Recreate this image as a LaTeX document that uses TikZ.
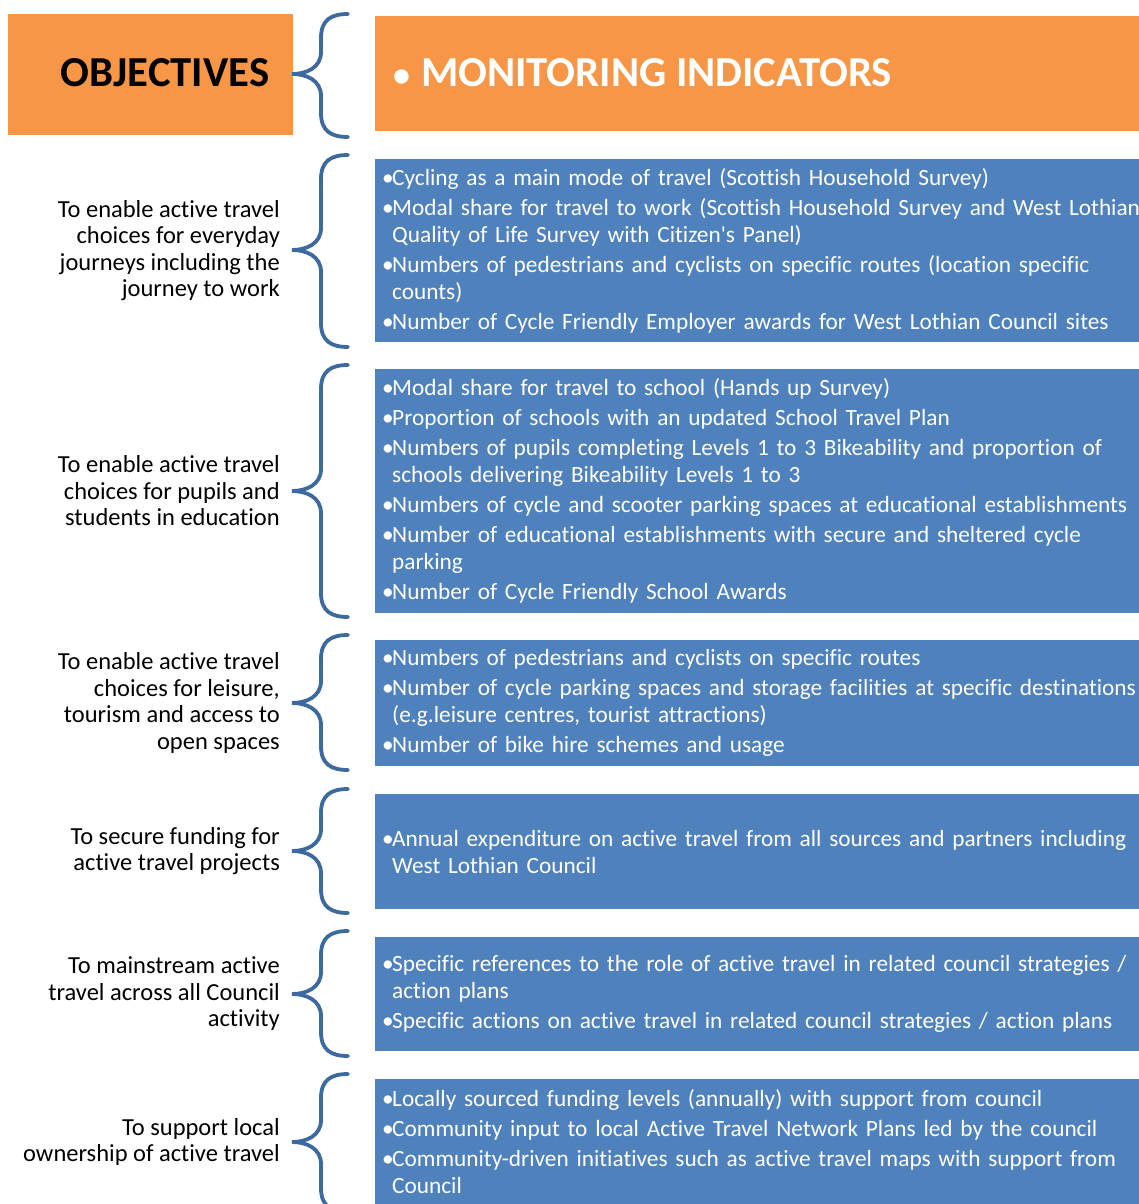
\documentclass[tikz,border=0pt]{standalone}
\usepackage{fontspec}
\setmainfont{Carlito}[Ligatures={TeX,NoCommon}]
\hyphenpenalty=10000
\definecolor{orng}{HTML}{F79646}
\definecolor{blu}{HTML}{4F81BD}
\definecolor{brc}{HTML}{3D6A9E}
\newcommand\itm[1]{\makebox[10pt][l]{•}#1}
\newcommand\cnt{\hspace*{10pt}}
\newcommand\mybrace[3]{% top, bottom, tip (pixel y)
  \draw[bracestyle] (348,#1) .. controls (331,#1) and (321,#1+6) .. (321,#1+24)
    -- (321,#3-22) .. controls (321,#3-6) and (306,#3) .. (292,#3)
    .. controls (306,#3) and (321,#3+6) .. (321,#3+22)
    -- (321,#2-24) .. controls (321,#2-6) and (331,#2) .. (348,#2);}
\begin{document}
\begin{tikzpicture}[x=1pt,y=-1pt,
  bracestyle/.style={draw=brc,line width=3.8pt,line cap=round},
  bluebox/.style={fill=blu,text=white,anchor=west,inner xsep=7pt,inner ysep=0pt,
    text width=820pt,align=left,font=\fontsize{23.3}{27}\selectfont},
  objtext/.style={anchor=east,align=right,inner sep=0pt,font=\fontsize{24.5}{26.5}\selectfont},
  ]
\useasboundingbox (0,0) rectangle (1139,1204);
% header
\node[fill=orng,minimum width=285pt,minimum height=121pt,anchor=north west,inner sep=0pt] (hl) at (8,14) {};
\node[font=\fontsize{42.7}{44}\selectfont\bfseries] (ht) at (165,73) {OBJECTIVES};
\node[fill=orng,minimum width=780pt,minimum height=115pt,anchor=north west,inner sep=0pt] (hr) at (375,16) {};
\node[font=\fontsize{42.7}{44}\selectfont\bfseries,text=white,anchor=west,inner sep=0pt] (hi) at (393,73) {{\fontsize{34}{34}\selectfont •}\hspace{11pt}MONITORING INDICATORS};
\mybrace{14}{137}{74}
% row 1
\node[objtext] (o1) at (280,250.5) {To enable active travel\\choices for everyday\\journeys including the\\journey to work};
\mybrace{155}{347}{250}
\node[bluebox,minimum height=183pt] (b1) at (375,250.5) {\itm{Cycling as a main mode of travel (Scottish Household Survey)}\\[3pt]
\itm{Modal share for travel to work (Scottish Household Survey and West Lothian}\\\cnt Quality of Life Survey with Citizen\textquotesingle s Panel)\\[3pt]
\itm{Numbers of pedestrians and cyclists on specific routes (location specific}\\\cnt counts)\\[3pt]
\itm{Number of Cycle Friendly Employer awards for West Lothian Council sites}};
% row 2
\node[objtext] (o2) at (280,491) {To enable active travel\\choices for pupils and\\students in education};
\mybrace{365}{617}{491}
\node[bluebox,minimum height=244pt] (b2) at (375,491) {\itm{Modal share for travel to school (Hands up Survey)}\\[3pt]
\itm{Proportion of schools with an updated School Travel Plan}\\[3pt]
\itm{Numbers of pupils completing Levels 1 to 3 Bikeability and proportion of}\\\cnt schools delivering Bikeability Levels 1 to 3\\[3pt]
\itm{Numbers of cycle and scooter parking spaces at educational establishments}\\[3pt]
\itm{Number of educational establishments with secure and sheltered cycle}\\\cnt parking\\[3pt]
\itm{Number of Cycle Friendly School Awards}};
% row 3
\node[objtext] (o3) at (280,703) {To enable active travel\\choices for leisure,\\tourism and access to\\open spaces};
\mybrace{635}{770}{703}
\node[bluebox,minimum height=126pt] (b3) at (375,703) {\itm{Numbers of pedestrians and cyclists on specific routes}\\[3pt]
\itm{Number of cycle parking spaces and storage facilities at specific destinations}\\\cnt (e.g.leisure centres, tourist attractions)\\[3pt]
\itm{Number of bike hire schemes and usage}};
% row 4
\node[objtext] (o4) at (280,851) {To secure funding for\\active travel projects};
\mybrace{789}{913}{851}
\node[bluebox,minimum height=115pt] (b4) at (375,851.5) {\itm{Annual expenditure on active travel from all sources and partners including}\\\cnt West Lothian Council};
% row 5
\node[objtext] (o5) at (280,994) {To mainstream active\\travel across all Council\\activity};
\mybrace{931}{1056}{994}
\node[bluebox,minimum height=114pt] (b5) at (375,994) {\itm{Specific references to the role of active travel in related council strategies /}\\\cnt action plans\\[3pt]
\itm{Specific actions on active travel in related council strategies / action plans}};
% row 6
\node[objtext] (o6) at (280,1142) {To support local\\ownership of active travel};
\mybrace{1074}{1212}{1142}
\node[bluebox,minimum height=126pt] (b6) at (375,1142) {\itm{Locally sourced funding levels (annually) with support from council}\\[3pt]
\itm{Community input to local Active Travel Network Plans led by the council}\\[3pt]
\itm{Community-driven initiatives such as active travel maps with support from}\\\cnt Council};
\end{tikzpicture}
\end{document}
